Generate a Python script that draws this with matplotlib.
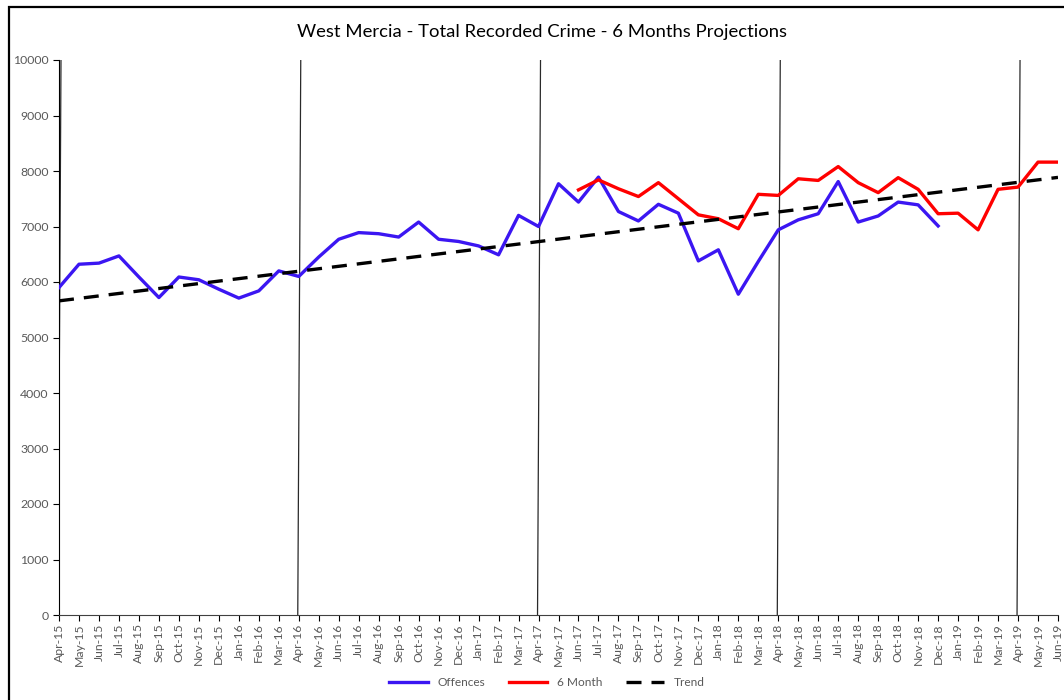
import pandas as pd
import matplotlib.pyplot as plt
from matplotlib.patches import Rectangle

# ----------------------------------------------------------
# Data
# ----------------------------------------------------------

months = list(pd.date_range("2015-04-01", periods=51, freq="MS").strftime("%b-%y"))

offences = [5900, 6320, 6340, 6470, 6090, 5720, 6090, 6040, 5870, 5710, 5840, 6200,
            6100, 6450, 6770, 6890, 6870, 6810, 7080, 6770, 6730, 6650, 6490, 7200,
            7000, 7770, 7440, 7890, 7270, 7100, 7400, 7240, 6380, 6580, 5780, 6370,
            6940, 7120, 7230, 7810, 7080, 7190, 7440, 7390, 7010]

six_month_start = "Jun-17"
six_month = [7660, 7840, 7680, 7540, 7790, 7500, 7210, 7140, 6960, 7580, 7560, 7860,
             7830, 8080, 7790, 7610, 7880, 7670, 7230, 7240, 6940, 7670, 7710, 8160, 8160]

trend_months = ["Apr-15", "Jun-19"]
trend_values = [5660, 7885]

year_marks = ["Apr-15", "Apr-16", "Apr-17", "Apr-18", "Apr-19"]

# ----------------------------------------------------------
# Figure
# ----------------------------------------------------------

plt.rcParams["font.family"] = ["Lato", "DejaVu Sans"]

fig = plt.figure(figsize=(10.64, 7), dpi=100)
ax = fig.add_axes([59 / 1064, 1 - 615 / 700, 999 / 1064, 555 / 700])

# outer frame (left and top visible)
fig.patches.append(Rectangle((9 / 1064, -0.1), 1.2, 0.1 + 1 - 7 / 700,
                             transform=fig.transFigure, fill=False,
                             edgecolor="black", linewidth=1.6))

x_off = list(range(len(offences)))
s0 = months.index(six_month_start)
x_six = list(range(s0, s0 + len(six_month)))
x_trend = [months.index(m) for m in trend_months]

# year separator lines (slightly slanted as in the original)
for m in year_marks:
    i = months.index(m)
    ax.plot([i + 0.1, i - 0.05], [10000, 0], color="#2a2a2a", linewidth=0.9, zorder=1)

ax.plot(x_off, offences, color="#3B16F2", linewidth=2.4, label="Offences", zorder=3)
ax.plot(x_six, six_month, color="#FF0000", linewidth=2.4, label="6 Month", zorder=3)
ax.plot(x_trend, trend_values, color="black", linewidth=2.4,
        linestyle=(0, (4.5, 3)), label="Trend", zorder=4)

ax.set_xlim(0, len(months) - 1)
ax.set_ylim(0, 10000)
ax.set_yticks(range(0, 10001, 1000))
ax.set_xticks(range(len(months)))
ax.set_xticklabels(months, rotation=90)

for s in ["top", "right"]:
    ax.spines[s].set_visible(False)
ax.spines["left"].set_color("black")
ax.spines["bottom"].set_color("#404040")
ax.tick_params(axis="both", direction="out", length=4, width=0.8,
               labelsize=8.8, labelcolor="#595959")
ax.tick_params(axis="x", pad=2)

fig.text(542 / 1064, 1 - 32 / 700, "West Mercia - Total Recorded Crime - 6 Months Projections",
         ha="center", va="center", fontsize=13.3, color="black")

fig.legend(loc="center", bbox_to_anchor=(547 / 1064, 1 - 683 / 700), ncol=3,
           frameon=False, fontsize=8.6, handlelength=3.2, columnspacing=2.0,
           labelcolor="#595959")

plt.savefig("out.png", dpi=100)
plt.close()
